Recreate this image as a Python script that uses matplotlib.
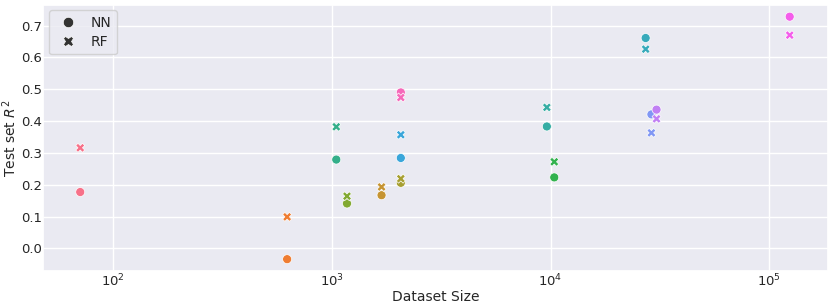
import numpy as np
import matplotlib
matplotlib.use("Agg")
import matplotlib.pyplot as plt
import seaborn as sns
from matplotlib.lines import Line2D

sns.set_theme(style="darkgrid")
plt.rcParams['font.family'] = ['DejaVu Sans']

# Dataset sizes (one per dataset, ordered by palette hue)
dataset_size = [71, 626, 1690, 2070, 1175, 10400, 1050, 9620, 27200, 2070, 28900, 30500, 123800, 2070]
nn_r2 = [0.177, -0.034, 0.167, 0.206, 0.141, 0.223, 0.279, 0.383, 0.661, 0.284, 0.421, 0.436, 0.728, 0.490]
rf_r2 = [0.316, 0.099, 0.193, 0.219, 0.164, 0.272, 0.382, 0.443, 0.626, 0.357, 0.363, 0.407, 0.670, 0.474]
model_labels = ["NN", "RF"]

colors = sns.color_palette("husl", len(dataset_size))

fig = plt.figure(figsize=(8.31, 3.07), dpi=100)
ax = fig.add_axes([0.052, 0.117, 0.944, 0.867])

ax.scatter(dataset_size, nn_r2, c=colors, marker="o", s=42, edgecolors="white", linewidths=0.5, zorder=3)
ax.scatter(dataset_size, rf_r2, c=colors, marker="X", s=42, edgecolors="white", linewidths=0.5, zorder=3)

ax.set_xscale("log")
ax.set_xlim(48.1, 184600)
ax.set_ylim(-0.0714, 0.765)
ax.set_yticks([0.0, 0.1, 0.2, 0.3, 0.4, 0.5, 0.6, 0.7])
ax.minorticks_off()
ax.tick_params(labelsize=9.5, pad=1, length=0)
ax.set_xlabel("Dataset Size", fontsize=10, labelpad=1)
ax.set_ylabel("Test set $R^2$", fontsize=10, labelpad=1)

handles = [
    Line2D([], [], marker="o", color=".2", linestyle="", markersize=7.5, markeredgecolor="white", markeredgewidth=0.5),
    Line2D([], [], marker="X", color=".2", linestyle="", markersize=7.5, markeredgecolor="white", markeredgewidth=0.5),
]
ax.legend(handles, model_labels, loc="upper left", fontsize=10, borderaxespad=0.4,
          labelspacing=0.35, handletextpad=0.6)

fig.savefig("out.png", dpi=100)
